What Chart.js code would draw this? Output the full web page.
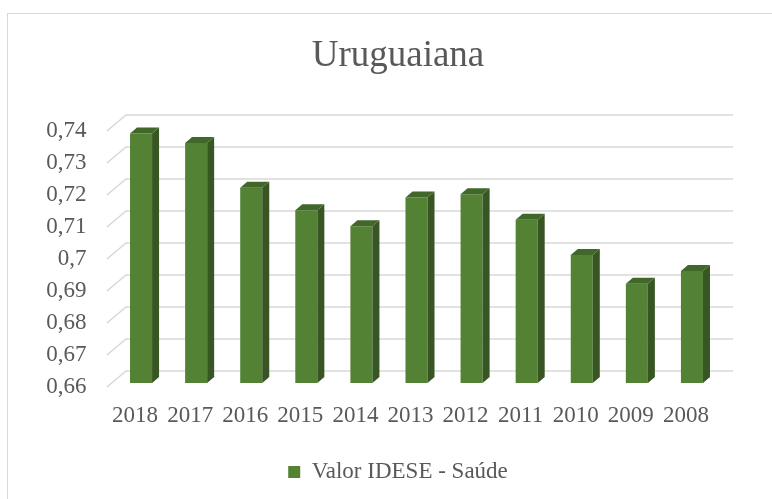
<!DOCTYPE html>
<html>
<head>
<meta charset="utf-8">
<title>Uruguaiana</title>
<script src="https://cdn.jsdelivr.net/npm/chart.js@4.4.1/dist/chart.umd.min.js"></script>
<style>
  html, body { margin: 0; padding: 0; background: #fff; overflow: hidden; }
  canvas { display: block; }
</style>
</head>
<body>
<canvas id="idesChart" width="772" height="499"></canvas>
<script>
// Data
const years = ['2018', '2017', '2016', '2015', '2014', '2013', '2012', '2011', '2010', '2009', '2008'];
const saude = [0.738, 0.735, 0.721, 0.714, 0.709, 0.718, 0.719, 0.711, 0.700, 0.691, 0.695];
const yTicks = [0.66, 0.67, 0.68, 0.69, 0.70, 0.71, 0.72, 0.73, 0.74];

const serif = "'Liberation Serif', 'Times New Roman', serif";
const textColor = '#595959';
const green = '#548235';

// Excel-like 3D look: back wall grid, side and top faces of the bars
const depth = { dx: 7, dy: -6 };
const wall = { frontX: -6.5, backX: 12.5, frontY: 4, backY: -12, rightX: 13.5 };

const fakeThreeD = {
    id: 'fakeThreeD',
    beforeDraw(chart) {
        const ctx = chart.ctx;
        ctx.save();
        ctx.strokeStyle = '#d9d9d9';
        ctx.lineWidth = 1;
        ctx.strokeRect(7.5, 13.5, 800, 600);
        ctx.restore();
    },
    beforeDatasetsDraw(chart) {
        const ctx = chart.ctx;
        const area = chart.chartArea;
        const y = chart.scales.y;
        ctx.save();
        ctx.strokeStyle = '#d9d9d9';
        ctx.lineWidth = 1.6;
        yTicks.forEach(function (v) {
            const p = y.getPixelForValue(v);
            ctx.beginPath();
            ctx.moveTo(area.left + wall.frontX, p + wall.frontY);
            ctx.lineTo(area.left + wall.backX, p + wall.backY);
            ctx.lineTo(area.right + wall.rightX, p + wall.backY);
            ctx.stroke();
        });
        ctx.restore();
    },
    afterDatasetsDraw(chart) {
        const ctx = chart.ctx;
        const meta = chart.getDatasetMeta(0);
        ctx.save();
        meta.data.forEach(function (bar) {
            const half = bar.width / 2;
            const l = bar.x - half, r = bar.x + half;
            // side face
            ctx.fillStyle = '#375623';
            ctx.beginPath();
            ctx.moveTo(r, bar.y);
            ctx.lineTo(r + depth.dx, bar.y + depth.dy);
            ctx.lineTo(r + depth.dx, bar.base + depth.dy);
            ctx.lineTo(r, bar.base);
            ctx.closePath();
            ctx.fill();
            // top face
            ctx.fillStyle = '#42672a';
            ctx.beginPath();
            ctx.moveTo(l, bar.y);
            ctx.lineTo(l + depth.dx, bar.y + depth.dy);
            ctx.lineTo(r + depth.dx, bar.y + depth.dy);
            ctx.lineTo(r, bar.y);
            ctx.closePath();
            ctx.fill();
        });
        ctx.restore();
    }
};

const ctx = document.getElementById('idesChart');

new Chart(ctx, {
    type: 'bar',
    data: {
        labels: years,
        datasets: [{
            label: 'Valor IDESE - Saúde',
            data: saude,
            base: 0.66,
            backgroundColor: green,
            borderWidth: 0,
            barPercentage: 0.4,
            categoryPercentage: 1
        }]
    },
    options: {
        responsive: false,
        animation: false,
        devicePixelRatio: 1,
        layout: { padding: { left: 24, right: 0, top: 0, bottom: 5.5 } },
        plugins: {
            title: {
                display: true,
                text: 'Uruguaiana',
                color: textColor,
                font: { family: serif, size: 37, weight: 'normal' },
                padding: { top: 33.8, bottom: 48.8 }
            },
            legend: {
                position: 'bottom',
                labels: {
                    boxWidth: 12,
                    boxHeight: 12,
                    color: textColor,
                    padding: 10,
                    font: { family: serif, size: 23 }
                }
            },
            tooltip: { enabled: false }
        },
        scales: {
            x: {
                grid: { display: false, drawTicks: false },
                border: { display: false },
                ticks: {
                    color: textColor,
                    font: { family: serif, size: 23 },
                    padding: 19,
                    labelOffset: -6,
                    maxRotation: 0,
                    autoSkip: false
                },
                afterFit: function (s) { s.height = 67.5; }
            },
            y: {
                min: 0.66,
                max: 0.74,
                grid: { display: false, drawTicks: false },
                border: { display: false },
                afterBuildTicks: function (axis) {
                    axis.ticks = yTicks.map(function (v) { return { value: v }; });
                },
                ticks: {
                    color: textColor,
                    font: { family: serif, size: 23 },
                    padding: 27,
                    labelOffset: 4,
                    callback: function (v) { return String(+v.toFixed(2)).replace('.', ','); }
                },
                afterFit: function (s) { s.width = 89.5; }
            },
            y2: {
                position: 'right',
                grid: { display: false },
                border: { display: false },
                ticks: { display: false },
                afterFit: function (s) { s.width = 52.5; }
            }
        }
    },
    plugins: [fakeThreeD]
});
</script>
</body>
</html>
